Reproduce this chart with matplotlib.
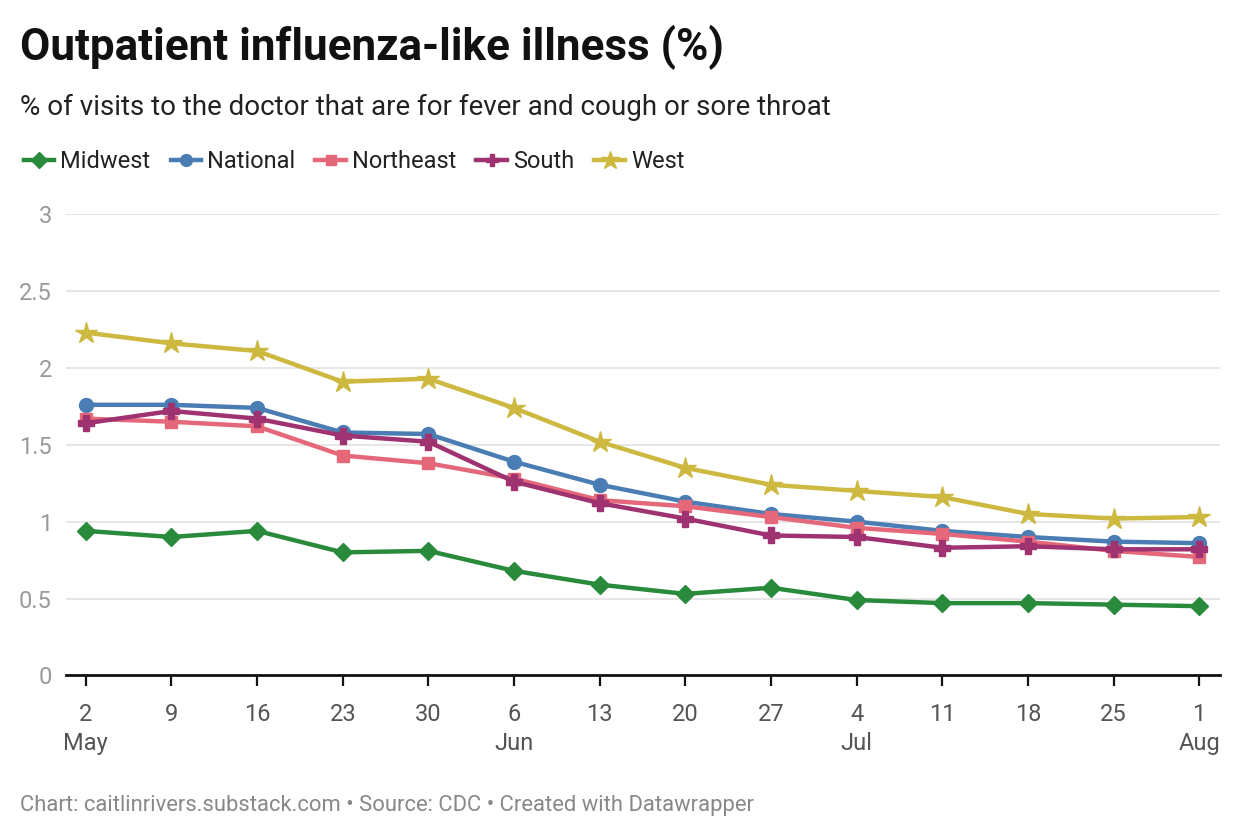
import matplotlib
matplotlib.use('Agg')
import matplotlib.pyplot as plt
from matplotlib.lines import Line2D

plt.rcParams['font.family'] = ['Roboto', 'DejaVu Sans']

## Δεδομένα (ανάγνωση από το διάγραμμα)
x_labels = ['2\nMay', '9', '16', '23', '30', '6\nJun', '13', '20', '27',
            '4\nJul', '11', '18', '25', '1\nAug']
midwest   = [0.94, 0.90, 0.94, 0.80, 0.81, 0.68, 0.59, 0.53, 0.57, 0.49, 0.47, 0.47, 0.46, 0.45]
national  = [1.76, 1.76, 1.74, 1.58, 1.57, 1.39, 1.24, 1.13, 1.05, 1.00, 0.94, 0.90, 0.87, 0.86]
northeast = [1.67, 1.65, 1.62, 1.43, 1.38, 1.28, 1.14, 1.10, 1.03, 0.96, 0.92, 0.87, 0.81, 0.77]
south     = [1.64, 1.72, 1.67, 1.56, 1.52, 1.26, 1.12, 1.02, 0.91, 0.90, 0.83, 0.84, 0.82, 0.82]
west      = [2.23, 2.16, 2.11, 1.91, 1.93, 1.74, 1.52, 1.35, 1.24, 1.20, 1.16, 1.05, 1.02, 1.03]

names = ['Midwest', 'National', 'Northeast', 'South', 'West']
values = [midwest, national, northeast, south, west]
colors = ['#2a8a3b', '#4a7db3', '#e5687a', '#9f3270', '#cdb840']
markers = ['D', 'o', 's', 'P', '*']
msizes = [9, 10, 9, 11, 16]

fig = plt.figure(figsize=(12.4, 8.4), dpi=100)
ax = fig.add_axes([0.053, 0.196, 0.931, 0.549])

xs = list(range(len(x_labels)))
handles = []
for name, v, c, m, ms in zip(names, values, colors, markers, msizes):
    ax.plot(xs, v, color=c, lw=3.2, marker=m, ms=ms, mec=c, clip_on=False, zorder=3)
    handles.append(Line2D([], [], color=c, lw=3.2, marker=m, ms=ms * 0.85, mec=c))

ax.set_xlim(-0.234, 13.245)
ax.set_ylim(0, 3)
ax.set_yticks([0, 0.5, 1, 1.5, 2, 2.5, 3])
ax.set_yticklabels(['0', '0.5', '1', '1.5', '2', '2.5', '3'])
ax.set_xticks(xs)
ax.set_xticklabels(x_labels, fontsize=17, color='#555555', linespacing=1.3)

ax.grid(axis='y', color='#e2e2e2', lw=1.2)
ax.set_axisbelow(True)
for s in ['top', 'right', 'left']:
    ax.spines[s].set_visible(False)
ax.spines['bottom'].set_color('#111111')
ax.spines['bottom'].set_linewidth(2)
ax.spines['bottom'].set_zorder(4)
ax.tick_params(axis='y', length=0, labelsize=17, labelcolor='#9a9a9a', pad=10)
ax.tick_params(axis='x', length=8, width=1.6, color='#111111', pad=12)

## Τίτλοι
fig.text(0.016, 0.944, 'Outpatient influenza-like illness (%)', fontsize=31.7,
         fontweight='bold', color='#111111', va='center')
fig.text(0.016, 0.872, '% of visits to the doctor that are for fever and cough or sore throat',
         fontsize=20, color='#222222', va='center')
fig.legend(handles, names, loc='center left', bbox_to_anchor=(0.002, 0.808), ncol=5,
           frameon=False, fontsize=17, handlelength=1.3, handletextpad=0.25,
           columnspacing=0.85, labelcolor='#222222')
fig.text(0.016, 0.041, 'Chart: caitlinrivers.substack.com \u2022 Source: CDC \u2022 Created with Datawrapper',
         fontsize=15.8, color='#888888', va='center')

fig.savefig('out.png', dpi=100)
